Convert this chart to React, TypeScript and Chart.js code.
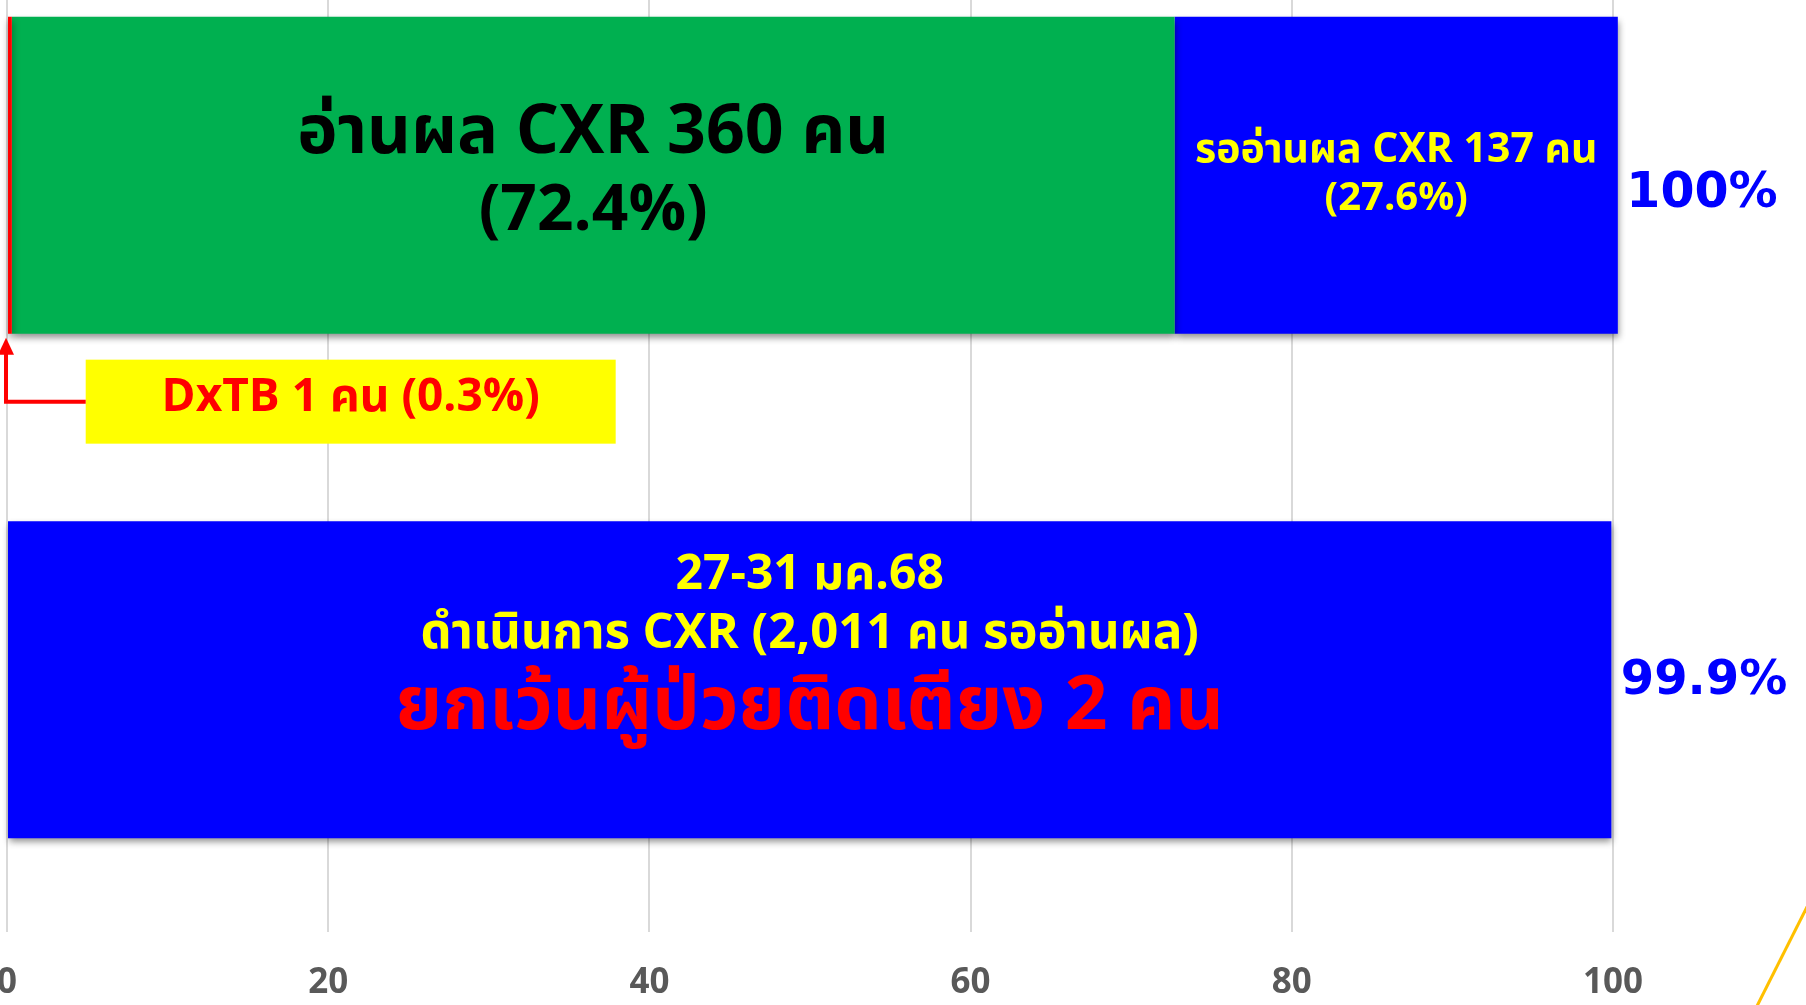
import React, { useEffect, useRef } from "react";
import { Chart, registerables } from "chart.js";

Chart.register(...registerables);

// ---- data ----
const categories = ["ผลการอ่าน CXR", "27-31 มค.68"];
const dxtbValues = [0.3, null];
const readValues = [72.4, null];
const pendingValues = [27.6, null];
const doneValues = [null, 99.9];
const xTickValues = [0, 20, 40, 60, 80, 100];

const readLabel = ["อ่านผล CXR 360 คน", "(72.4%)"];
const pendingLabel = ["รออ่านผล CXR 137 คน", "(27.6%)"];
const dxtbLabel = "DxTB 1 คน (0.3%)";
const doneLabel = ["27-31 มค.68", "ดำเนินการ CXR (2,011 คน รออ่านผล)"];
const exceptLabel = "ยกเว้นผู้ป่วยติดเตียง 2 คน";
const totalLabels = ["100%", "99.9%"];

const THAI = '"Noto Sans Thai", "Noto Sans", "DejaVu Sans", sans-serif';
const WIDE = '"DejaVu Sans", "Noto Sans", sans-serif';

const shadowPlugin = {
  id: "barShadow",
  beforeDatasetsDraw(chart: any) {
    const ctx = chart.ctx;
    ctx.save();
    ctx.shadowColor = "rgba(0,0,0,0.45)";
    ctx.shadowBlur = 7;
    ctx.shadowOffsetX = 1;
    ctx.shadowOffsetY = 4;
  },
  afterDatasetsDraw(chart: any) {
    chart.ctx.restore();
  },
};

function textAt(ctx: any, s: string, x: number, y: number, font: string, color: string) {
  ctx.font = font;
  ctx.fillStyle = color;
  ctx.textAlign = "center";
  ctx.textBaseline = "middle";
  ctx.fillText(s, x, y);
}

const annotPlugin = {
  id: "annot",
  afterDraw(chart: any) {
    const { ctx, chartArea, scales } = chart;
    const xs = scales.x;
    const red = chart.getDatasetMeta(0).data[0].getProps(["x", "base", "y", "height"], true);
    const green = chart.getDatasetMeta(1).data[0].getProps(["x", "base", "y", "height"], true);
    const blue = chart.getDatasetMeta(2).data[0].getProps(["x", "base", "y", "height"], true);
    const done = chart.getDatasetMeta(3).data[1].getProps(["x", "base", "y", "height"], true);
    ctx.save();

    // green segment label
    const gx = (green.x + green.base) / 2;
    textAt(ctx, readLabel[0], gx, green.y - 36, `bold 68px ${THAI}`, "#000000");
    textAt(ctx, readLabel[1], gx, green.y + 42, `bold 64px ${THAI}`, "#000000");

    // blue (pending) segment label
    const bx = (blue.x + blue.base) / 2;
    textAt(ctx, pendingLabel[0], bx, blue.y - 22, `bold 41px ${THAI}`, "#FFFF00");
    textAt(ctx, pendingLabel[1], bx, blue.y + 27, `bold 40px ${THAI}`, "#FFFF00");

    // totals on right
    const rx = chartArea.right + 89;
    textAt(ctx, totalLabels[0], rx, green.y + 19, `bold 49px ${WIDE}`, "#0000FF");
    textAt(ctx, totalLabels[1], rx + 2, done.y + 2, `bold 48px ${WIDE}`, "#0000FF");

    // bottom bar text
    const dx = (done.x + done.base) / 2;
    textAt(ctx, doneLabel[0], dx, done.y - 100, `bold 48px ${THAI}`, "#FFFF00");
    textAt(ctx, doneLabel[1], dx, done.y - 42, `bold 49px ${THAI}`, "#FFFF00");
    textAt(ctx, exceptLabel, dx, done.y + 34, `bold 75px ${THAI}`, "#FF0000");

    // DxTB callout box
    const barBottom = red.y + red.height / 2;
    const boxL = xs.getPixelForValue(4.9);
    const boxR = xs.getPixelForValue(37.9);
    const boxT = barBottom + 26;
    const boxB = barBottom + 110;
    ctx.fillStyle = "#FFFF00";
    ctx.fillRect(boxL, boxT, boxR - boxL, boxB - boxT);
    textAt(ctx, dxtbLabel, (boxL + boxR) / 2, (boxT + boxB) / 2, `bold 46px ${THAI}`, "#FF0000");

    // arrow
    const ax = chartArea.left - 1;
    const ay = (boxT + boxB) / 2;
    ctx.strokeStyle = "#FF0000";
    ctx.lineWidth = 4;
    ctx.beginPath();
    ctx.moveTo(boxL, ay);
    ctx.lineTo(ax, ay);
    ctx.lineTo(ax, barBottom + 18);
    ctx.stroke();
    ctx.fillStyle = "#FF0000";
    ctx.beginPath();
    ctx.moveTo(ax, barBottom + 4);
    ctx.lineTo(ax - 8, barBottom + 21);
    ctx.lineTo(ax + 8, barBottom + 21);
    ctx.closePath();
    ctx.fill();

    // decorative diagonal at bottom right
    const W = chart.width;
    const H = chart.height;
    ctx.strokeStyle = "#FFC000";
    ctx.lineWidth = 3;
    ctx.beginPath();
    ctx.moveTo(W + 2, H - 130);
    ctx.lineTo(W - 50, H - 27);
    ctx.stroke();
    ctx.restore();
  },
};

export default function App() {
  const ref = useRef<HTMLCanvasElement>(null);
  useEffect(() => {
    if (!ref.current) return;
    const chart = new Chart(ref.current, {
      type: "bar",
      data: {
        labels: categories,
        datasets: [
          { label: "DxTB", data: dxtbValues, backgroundColor: "#FF0000", clip: false } as any,
          { label: "อ่านผล CXR", data: readValues, backgroundColor: "#00B050", clip: false } as any,
          { label: "รออ่านผล CXR", data: pendingValues, backgroundColor: "#0000FF", clip: false } as any,
          { label: "ดำเนินการ CXR", data: doneValues, backgroundColor: "#0000FF", clip: false } as any,
        ],
      },
      options: {
        indexAxis: "y",
        animation: false,
        responsive: true,
        maintainAspectRatio: false,
        layout: { padding: { left: 32.5, right: 193.5, top: 0, bottom: 0 } },
        datasets: { bar: { categoryPercentage: 1, barPercentage: 0.628 } },
        plugins: { legend: { display: false }, tooltip: { enabled: false } },
        scales: {
          x: {
            stacked: true,
            min: 0,
            max: 100,
            afterBuildTicks: (axis: any) => {
              axis.ticks = xTickValues.map((v) => ({ value: v }));
            },
            grid: { color: "#D9D9D9", lineWidth: 2, drawTicks: false },
            border: { display: false },
            ticks: {
              padding: 30,
              color: "#595959",
              font: { family: '"Noto Sans", sans-serif', size: 35, weight: "bold" },
            },
          },
          y: { stacked: true, display: false },
        },
      },
      plugins: [shadowPlugin, annotPlugin],
    } as any);
    return () => chart.destroy();
  }, []);
  return (
    <div style={{ position: "fixed", left: -33.5, top: -77, width: 1839.5, height: 1111, background: "#fff" }}>
      <canvas ref={ref} />
    </div>
  );
}
